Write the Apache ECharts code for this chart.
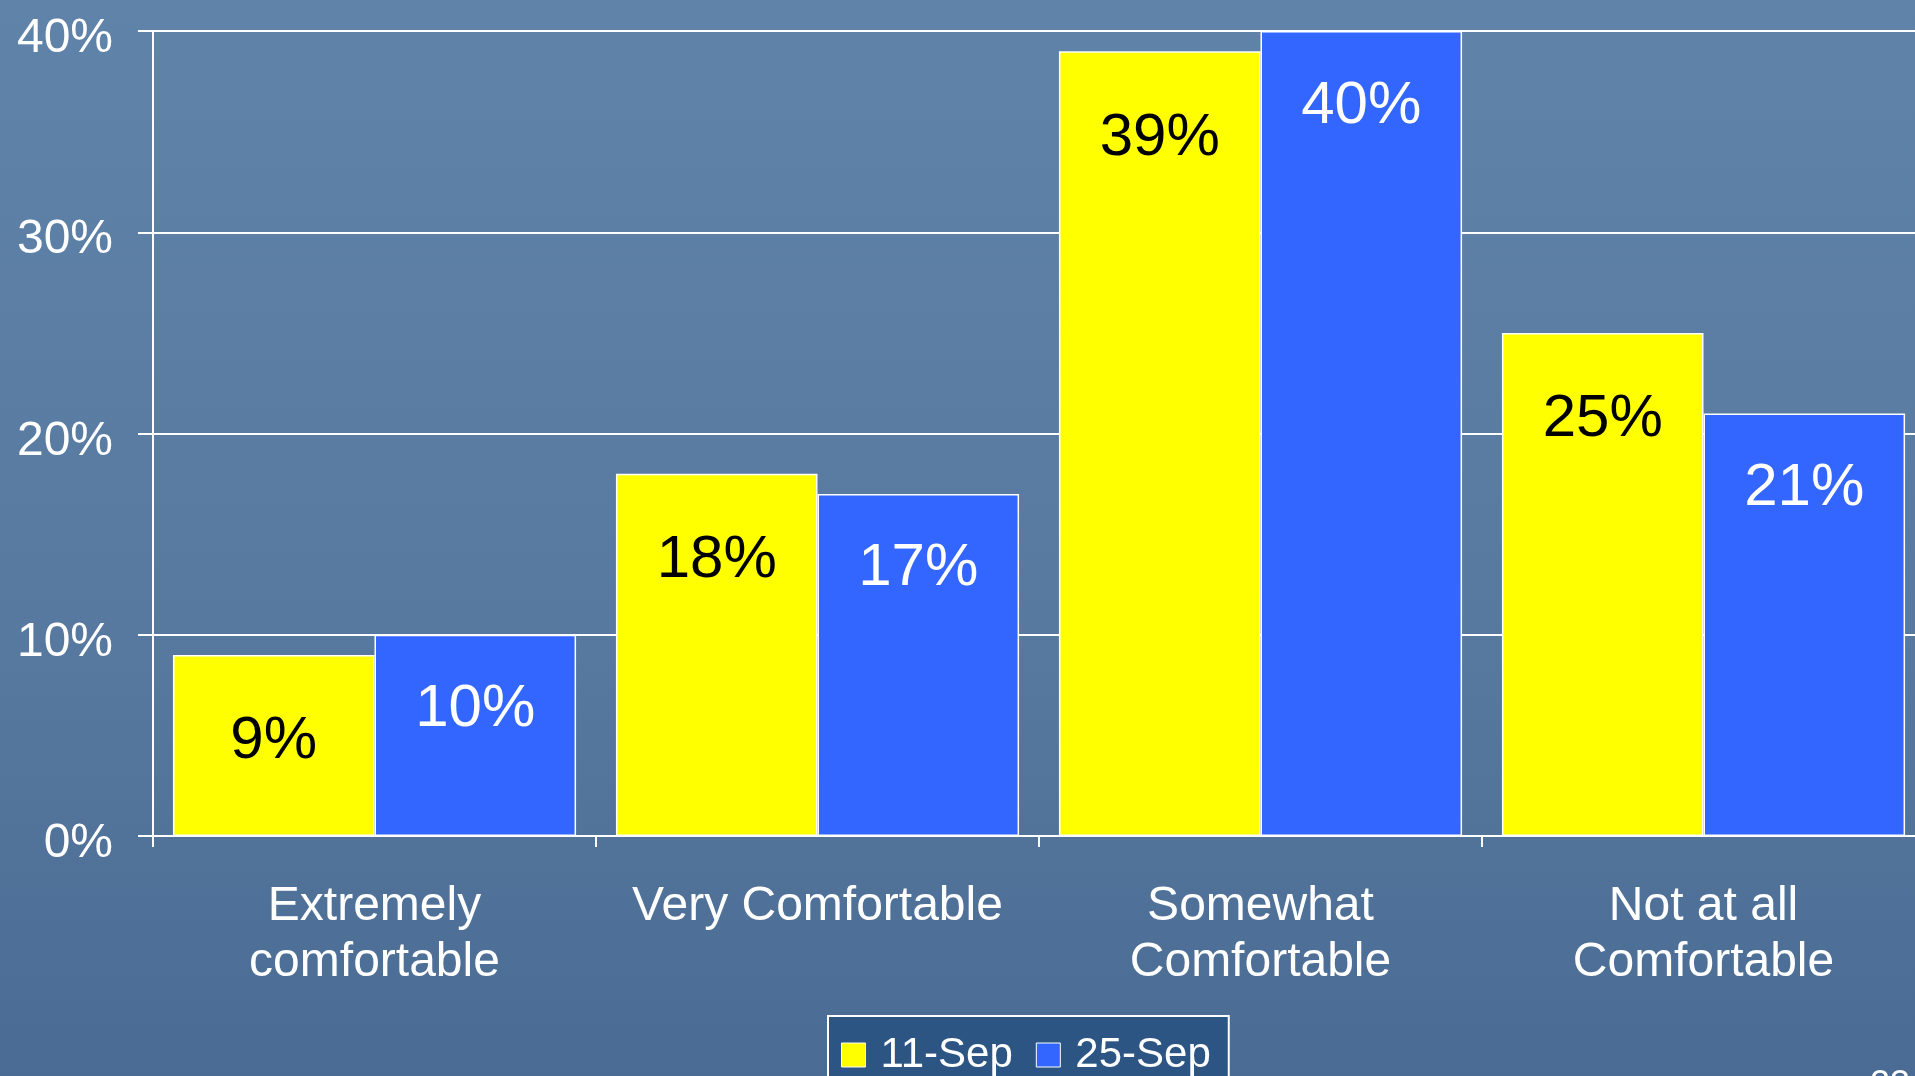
<!DOCTYPE html>
<html>
<head>
<meta charset="utf-8">
<script src="https://cdn.jsdelivr.net/npm/echarts@6/dist/echarts.min.js"></script>
<style>
html,body{margin:0;padding:0;width:1915px;height:1076px;overflow:hidden;}
#chart{width:1915px;height:1076px;}
</style>
</head>
<body>
<div id="chart"></div>
<script>
const categories = ['Extremely\ncomfortable', 'Very Comfortable', 'Somewhat\nComfortable', 'Not at all\nComfortable'];
const seriesNames = ['11-Sep', '25-Sep'];
const sep11 = [9, 18, 39, 25];
const sep25 = [10, 17, 40, 21];
const yTicks = { min: 0, max: 40, interval: 10 };

const chart = echarts.init(document.getElementById('chart'));
const font = '"Liberation Sans", Arial, sans-serif';
const option = {
  backgroundColor: {
    type: 'linear', x: 0, y: 0, x2: 0, y2: 1,
    colorStops: [{ offset: 0, color: '#6083aa' }, { offset: 0.6, color: '#57799f' }, { offset: 1, color: '#4a6b93' }]
  },
  animation: false,
  grid: { left: 153, top: 31, right: -10, height: 805, containLabel: false, outerBoundsMode: 'none' },
  legend: {
    left: 828, top: 1016,
    data: seriesNames,
    icon: 'rect',
    itemWidth: 24, itemHeight: 24, itemGap: 23,
    backgroundColor: '#2c5584',
    borderColor: '#ffffff', borderWidth: 2, borderRadius: 0,
    padding: [18, 18, 40, 13],
    itemStyle: { borderColor: '#ffffff', borderWidth: 1 },
    textStyle: { color: '#ffffff', fontSize: 42, fontFamily: font, padding: [0, 0, 0, 10] }
  },
  xAxis: {
    type: 'category',
    data: categories,
    boundaryGap: true,
    axisLine: { lineStyle: { color: '#ffffff', width: 2 } },
    axisTick: { show: true, length: 11, lineStyle: { color: '#ffffff', width: 2 } },
    axisLabel: { color: '#ffffff', fontSize: 48, lineHeight: 56, fontFamily: font, margin: 43, interval: 0 }
  },
  yAxis: {
    type: 'value',
    min: yTicks.min, max: yTicks.max, interval: yTicks.interval,
    axisLine: { show: true, lineStyle: { color: '#ffffff', width: 2 } },
    axisTick: { show: true, length: 15, lineStyle: { color: '#ffffff', width: 2 } },
    splitLine: { show: true, lineStyle: { color: '#ffffff', width: 2 } },
    axisLabel: {
      color: '#ffffff', fontSize: 48, fontFamily: font, margin: 40,
      formatter: '{v|{value}%}',
      rich: { v: { color: '#ffffff', fontSize: 48, fontFamily: font, padding: [16, 0, 0, 0] } }
    }
  },
  series: [
    {
      name: seriesNames[0], type: 'bar', data: sep11,
      barGap: '0%', barCategoryGap: '9%',
      itemStyle: { color: '#ffff00', borderColor: '#ffffff', borderWidth: 1.5 },
      label: { show: true, position: 'insideTop', distance: 57, color: '#000000', fontSize: 60, fontFamily: font, formatter: '{c}%' }
    },
    {
      name: seriesNames[1], type: 'bar', data: sep25,
      barGap: '0%', barCategoryGap: '9%',
      itemStyle: { color: '#3366ff', borderColor: '#ffffff', borderWidth: 1.5 },
      label: { show: true, position: 'insideTop', distance: 45, color: '#ffffff', fontSize: 60, fontFamily: font, formatter: '{c}%' }
    }
  ],
  graphic: [
    { type: 'text', left: 1870, top: 1068, style: { text: '23', fill: '#ffffff', font: '36px "Liberation Sans", Arial, sans-serif' } }
  ]
};
chart.setOption(option);
</script>
</body>
</html>
